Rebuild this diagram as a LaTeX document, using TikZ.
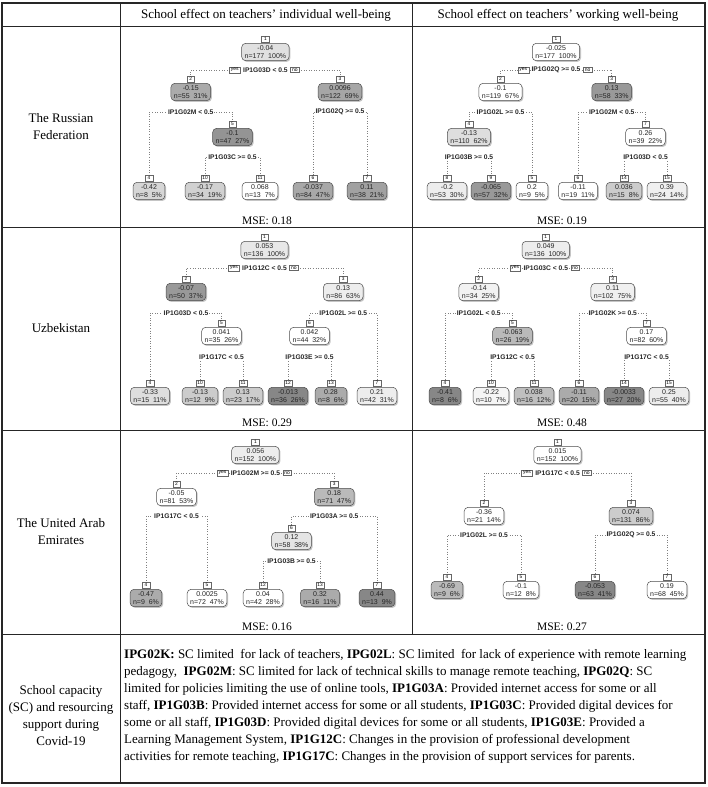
\documentclass[tikz,border=0pt]{standalone}
\usepackage{fontspec}
\setmainfont{Liberation Serif}
\newfontfamily\treefont{Liberation Sans}
\usetikzlibrary{shadows,backgrounds,calc}

\tikzset{
 tbox/.style={draw=black!70, line width=0.5pt, rounded corners=4pt, align=center,
   font=\treefont\fontsize{7}{8}\selectfont, inner xsep=3pt, inner ysep=2.2pt, text=black!85,
   drop shadow={shadow xshift=1.3pt, shadow yshift=-1.3pt, fill=black!45}},
 numbox/.style={draw=black!60, line width=0.4pt, fill=white, font=\treefont\fontsize{4.8}{5}\selectfont,
   inner sep=0.8pt, minimum width=7.5pt, minimum height=6pt, anchor=south},
 splitlbl/.style={font=\treefont\bfseries\fontsize{6.7}{7}\selectfont, fill=white, inner xsep=1pt, inner ysep=0.5pt, text=black!85},
 yn/.style={draw=black!60, line width=0.4pt, fill=white, font=\treefont\fontsize{5}{5.5}\selectfont, inner xsep=1.5pt, inner ysep=1pt},
 conn/.style={draw=black!50, line width=0.55pt, dotted},
 tline/.style={line width=1pt, draw=black!85},
 hdr/.style={font=\fontsize{13}{15}\selectfont},
 rowlbl/.style={font=\fontsize{13}{17}\selectfont, align=center},
 mse/.style={font=\fontsize{11.5}{14}\selectfont},
}

\newcommand\TN[8]{%
  \node[tbox, fill=#8] (#1) at (#2,#3) {#5\\n=#6\ \ #7\%};
  \node[numbox] (#1n) at ([yshift=0.6pt]#1.north) {#4};
}
\newcommand\SPL[6]{%
  \node[splitlbl] (#1) at (#2,#3) {#4};
  \begin{scope}[on background layer]
   \draw[conn] (#1.center) -| (#5n.north);
   \draw[conn] (#1.center) -| (#6n.north);
  \end{scope}}
\newcommand\YN[1]{%
  \node[yn, anchor=east] (#1y) at ([xshift=-1.5pt]#1.west) {yes};
  \node[yn, anchor=west] (#1o) at ([xshift=1.5pt]#1.east) {no};}

\begin{document}
\begin{tikzpicture}[x=1pt,y=-1pt]
\useasboundingbox (0,0) rectangle (708,787);
\begin{scope}[on background layer]
\fill[white] (0,0) rectangle (708,787);
\end{scope}

% table
\draw[tline, line width=1.2pt] (2,3) rectangle (705,783);
\draw[tline] (2,26) -- (705,26);
\draw[tline] (2,227) -- (705,227);
\draw[tline] (2,430) -- (705,430);
\draw[tline] (2,634) -- (705,634);
\draw[tline] (120,3) -- (120,783);
\draw[tline] (412,3) -- (412,634);

\node[hdr] (h1) at (266,15) {School effect on teachers’ individual well-being};
\node[hdr] (h2) at (558,15) {School effect on teachers’ working well-being};
\node[rowlbl] (c1) at (61,127) {The Russian\\Federation};
\node[rowlbl] (c2) at (61,328) {Uzbekistan};
\node[rowlbl] (c3) at (61,532) {The United Arab\\Emirates};
\node[rowlbl] (c4) at (61,716) {School capacity\\(SC) and resourcing\\support during\\Covid-19};

\node[mse] (m1) at (267,221) {MSE: 0.18};
\node[mse] (m2) at (562,221) {MSE: 0.19};
\node[mse] (m3) at (267,423) {MSE: 0.29};
\node[mse] (m4) at (562,423) {MSE: 0.48};
\node[mse] (m5) at (267,627) {MSE: 0.16};
\node[mse] (m6) at (562,627) {MSE: 0.27};

\node[anchor=north west, align=left, inner sep=0pt, font=\fontsize{13}{17}\selectfont] (leg) at (124,649) {%
\textbf{IPG02K:} SC limited\ \ for lack of teachers, \textbf{IPG02L}: SC limited\ \ for lack of experience with remote learning\\
pedagogy,\ \ \textbf{IPG02M}: SC limited for lack of technical skills to manage remote teaching, \textbf{IPG02Q}: SC\\
limited for policies limiting the use of online tools, \textbf{IP1G03A}: Provided internet access for some or all\\
staff, \textbf{IP1G03B}: Provided internet access for some or all students, \textbf{IP1G03C}: Provided digital devices for\\
some or all staff, \textbf{IP1G03D}: Provided digital devices for some or all students, \textbf{IP1G03E}: Provided a\\
Learning Management System, \textbf{IP1G12C}: Changes in the provision of professional development\\
activities for remote teaching, \textbf{IP1G17C}: Changes in the provision of support services for parents.};

% ---------- Russia, individual
\TN{ra1}{265.4}{52}{1}{-0.04}{177}{100}{black!12}
\TN{ra2}{190.75}{92}{2}{-0.15}{55}{31}{black!33}
\TN{ra3}{340}{92}{3}{0.0096}{122}{69}{black!35}
\TN{ra5}{232.5}{137}{5}{-0.1}{47}{27}{black!42}
\TN{ra4}{149}{191}{4}{-0.42}{8}{5}{black!16}
\TN{ra10}{205}{191}{10}{-0.17}{34}{19}{black!18}
\TN{ra11}{260}{191}{11}{0.068}{13}{7}{white}
\TN{ra6}{313}{191}{6}{-0.037}{84}{47}{black!34}
\TN{ra7}{367}{191}{7}{0.11}{38}{21}{black!37}
\SPL{ras1}{265.4}{70}{IP1G03D < 0.5}{ra2}{ra3}\YN{ras1}
\SPL{ras2}{190.75}{112}{IP1G02M < 0.5}{ra4}{ra5}
\SPL{ras3}{340}{112}{IP1G02Q >= 0.5}{ra6}{ra7}
\SPL{ras5}{232.5}{157}{IP1G03C >= 0.5}{ra10}{ra11}

% ---------- Russia, working
\TN{rb1}{556}{52}{1}{-0.025}{177}{100}{white}
\TN{rb2}{500.5}{92}{2}{-0.1}{119}{67}{white}
\TN{rb3}{611.75}{92}{3}{0.13}{58}{33}{black!40}
\TN{rb4}{469}{137}{4}{-0.13}{110}{62}{black!13}
\TN{rb7}{645.5}{137}{7}{0.26}{39}{22}{white}
\TN{rb8}{447}{191}{8}{-0.2}{53}{30}{black!7}
\TN{rb9}{491}{191}{9}{-0.065}{57}{32}{black!40}
\TN{rb5}{532}{191}{5}{0.2}{9}{5}{white}
\TN{rb6}{578}{191}{6}{-0.11}{19}{11}{white}
\TN{rb14}{624}{191}{14}{0.036}{15}{8}{black!20}
\TN{rb15}{667}{191}{15}{0.39}{24}{14}{black!6}
\SPL{rbs1}{556}{70}{IP1G02Q >= 0.5}{rb2}{rb3}\YN{rbs1}
\SPL{rbs2}{500.5}{112}{IP1G02L >= 0.5}{rb4}{rb5}
\SPL{rbs3}{611.75}{112}{IP1G02M < 0.5}{rb6}{rb7}
\SPL{rbs4}{469}{157}{IP1G03B >= 0.5}{rb8}{rb9}
\SPL{rbs7}{645.5}{157}{IP1G03D < 0.5}{rb14}{rb15}

% ---------- Uzbekistan, individual
\TN{ua1}{264.5}{250}{1}{0.053}{136}{100}{black!9}
\TN{ua2}{186}{292}{2}{-0.07}{50}{37}{black!40}
\TN{ua3}{343.25}{292}{3}{0.13}{86}{63}{black!7}
\TN{ua5}{221.5}{336}{5}{0.041}{35}{26}{white}
\TN{ua6}{309.5}{336}{6}{0.042}{44}{32}{white}
\TN{ua4}{150}{396}{4}{-0.33}{15}{11}{black!13}
\TN{ua10}{200}{396}{10}{-0.13}{12}{9}{black!20}
\TN{ua11}{243}{396}{11}{0.13}{23}{17}{black!20}
\TN{ua12}{288}{396}{12}{-0.013}{36}{26}{black!47}
\TN{ua13}{331}{396}{13}{0.28}{8}{6}{black!33}
\TN{ua7}{377}{396}{7}{0.21}{42}{31}{black!7}
\SPL{uas1}{264.5}{268}{IP1G12C < 0.5}{ua2}{ua3}\YN{uas1}
\SPL{uas2}{186}{313}{IP1G03D < 0.5}{ua4}{ua5}
\SPL{uas3}{343.25}{313}{IP1G02L >= 0.5}{ua6}{ua7}
\SPL{uas5}{221.5}{357}{IP1G17C < 0.5}{ua10}{ua11}
\SPL{uas6}{309.5}{357}{IP1G03E >= 0.5}{ua12}{ua13}

% ---------- Uzbekistan, working
\TN{ub1}{545.75}{250}{1}{0.049}{136}{100}{black!7}
\TN{ub2}{478.75}{292}{2}{-0.14}{34}{25}{black!5}
\TN{ub3}{612.75}{292}{3}{0.11}{102}{75}{black!6}
\TN{ub5}{512.5}{336}{5}{-0.063}{26}{19}{black!27}
\TN{ub7}{646.5}{336}{7}{0.17}{82}{60}{white}
\TN{ub4}{445}{396}{4}{-0.41}{8}{6}{black!47}
\TN{ub10}{491}{396}{10}{-0.22}{10}{7}{black!4}
\TN{ub11}{534}{396}{11}{0.038}{16}{12}{black!25}
\TN{ub6}{579}{396}{6}{-0.11}{20}{15}{black!33}
\TN{ub14}{624}{396}{14}{-0.0033}{27}{20}{black!47}
\TN{ub15}{669}{396}{15}{0.25}{55}{40}{black!7}
\SPL{ubs1}{545.75}{268}{IP1G03C < 0.5}{ub2}{ub3}\YN{ubs1}
\SPL{ubs2}{478.75}{313}{IP1G02L < 0.5}{ub4}{ub5}
\SPL{ubs3}{612.75}{313}{IP1G02K >= 0.5}{ub6}{ub7}
\SPL{ubs5}{512.5}{357}{IP1G12C < 0.5}{ub10}{ub11}
\SPL{ubs7}{646.5}{357}{IP1G17C < 0.5}{ub14}{ub15}

% ---------- UAE, individual
\TN{ea1}{255.4}{455}{1}{0.056}{152}{100}{black!7}
\TN{ea2}{176.5}{497}{2}{-0.05}{81}{53}{white}
\TN{ea3}{334.25}{497}{3}{0.18}{71}{47}{black!27}
\TN{ea6}{291.5}{541}{6}{0.12}{58}{38}{black!10}
\TN{ea4}{146}{598}{4}{-0.47}{9}{6}{black!33}
\TN{ea5}{207}{598}{5}{0.0025}{72}{47}{white}
\TN{ea12}{263}{598}{12}{0.04}{42}{28}{white}
\TN{ea13}{320}{598}{13}{0.32}{16}{11}{black!33}
\TN{ea7}{377}{598}{7}{0.44}{13}{9}{black!47}
\SPL{eas1}{255.4}{473}{IP1G02M >= 0.5}{ea2}{ea3}\YN{eas1}
\SPL{eas2}{176.5}{516}{IP1G17C < 0.5}{ea4}{ea5}
\SPL{eas3}{334.25}{516}{IP1G03A >= 0.5}{ea6}{ea7}
\SPL{eas6}{291.5}{561}{IP1G03B >= 0.5}{ea12}{ea13}

% ---------- UAE, working
\TN{eb1}{557.5}{455}{1}{0.015}{152}{100}{white}
\TN{eb2}{484}{516}{2}{-0.36}{21}{14}{white}
\TN{eb3}{631}{516}{3}{0.074}{131}{86}{black!20}
\TN{eb4}{447}{590}{4}{-0.69}{9}{6}{black!27}
\TN{eb5}{521}{590}{5}{-0.1}{12}{8}{white}
\TN{eb6}{595}{590}{6}{-0.053}{63}{41}{black!47}
\TN{eb7}{667}{590}{7}{0.19}{68}{45}{white}
\SPL{ebs1}{557.5}{473}{IP1G17C < 0.5}{eb2}{eb3}\YN{ebs1}
\SPL{ebs2}{484}{535}{IP1G02L >= 0.5}{eb4}{eb5}
\SPL{ebs3}{631}{535}{IP1G02Q >= 0.5}{eb6}{eb7}
\end{tikzpicture}
\end{document}
